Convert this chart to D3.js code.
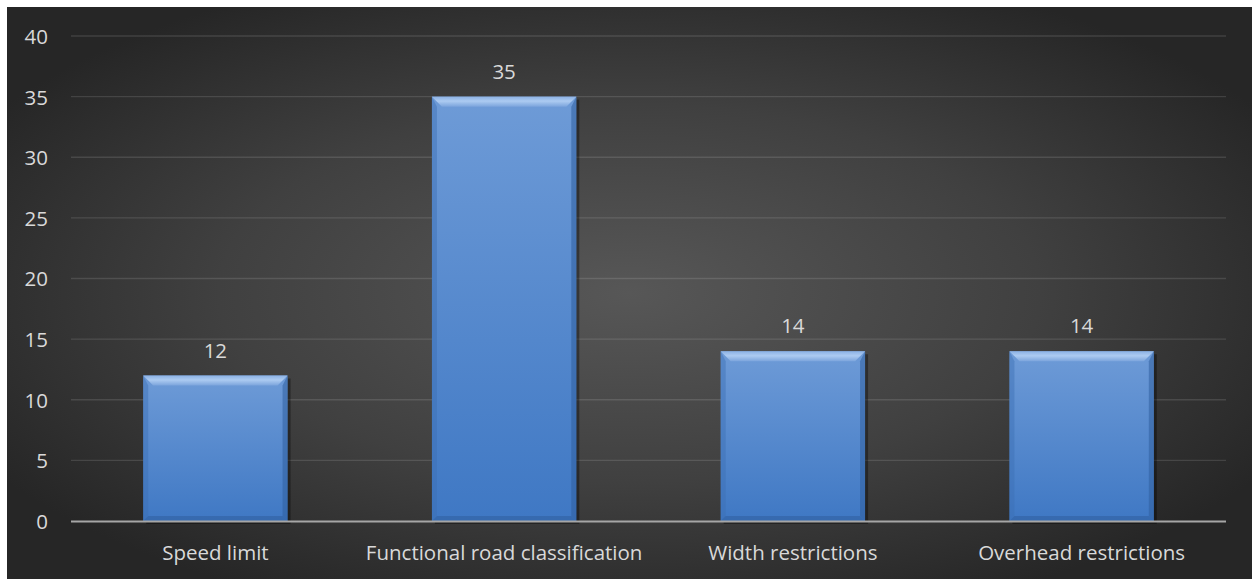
<!DOCTYPE html>
<html><head><meta charset="utf-8">
<script src="https://cdn.jsdelivr.net/npm/d3@7"></script>
<style>html,body{margin:0;padding:0;background:#fff;overflow:hidden}</style>
</head><body>
<svg id="c" width="1252" height="579"></svg>
<script>
const categories = ["Speed limit", "Functional road classification", "Width restrictions", "Overhead restrictions"];
const values = [12, 35, 14, 14];
const yTicks = [0, 5, 10, 15, 20, 25, 30, 35, 40];

const svg = d3.select("#c");
const W = 1252, H = 579;
const area = {x: 7, y: 7, w: W - 7, h: H - 7};
const m = {left: 71, right: 1226, top: 36, bottom: 521};
const font = "'Open Sans', sans-serif";
const fs = 20.5;
const txt = "#d9d9d9";

const defs = svg.append("defs");
const rg = defs.append("radialGradient").attr("id", "bg").attr("cx", "50%").attr("cy", "50%").attr("r", "60%");
rg.append("stop").attr("offset", "0%").attr("stop-color", "#575757");
rg.append("stop").attr("offset", "55%").attr("stop-color", "#404040");
rg.append("stop").attr("offset", "100%").attr("stop-color", "#262626");

const bg = defs.append("linearGradient").attr("id", "bar").attr("x1", 0).attr("y1", 0).attr("x2", 0).attr("y2", 1);
bg.append("stop").attr("offset", "0%").attr("stop-color", "#6e9bd7");
bg.append("stop").attr("offset", "100%").attr("stop-color", "#3f78c4");

const tb = defs.append("linearGradient").attr("id", "topbev").attr("x1", 0).attr("y1", 0).attr("x2", 0).attr("y2", 1);
tb.append("stop").attr("offset", "0%").attr("stop-color", "#8fb4e6");
tb.append("stop").attr("offset", "45%").attr("stop-color", "#b3d0f4");
tb.append("stop").attr("offset", "100%").attr("stop-color", "#7ea6dd");

svg.append("rect").attr("x", area.x).attr("y", area.y).attr("width", area.w).attr("height", area.h).attr("fill", "url(#bg)");

const x = d3.scaleBand().domain(categories).range([m.left, m.right]).paddingInner(0.5).paddingOuter(0.25);
const y = d3.scaleLinear().domain([0, 40]).range([m.bottom, m.top]);

// gridlines
svg.append("g").selectAll("line").data(yTicks.filter(d => d > 0)).join("line")
  .attr("x1", m.left).attr("x2", m.right).attr("y1", d => y(d)).attr("y2", d => y(d))
  .attr("stroke", "rgba(255,255,255,0.12)").attr("stroke-width", 1.3);

// y axis labels
const yAxis = d3.axisLeft(y).tickValues(yTicks).tickSize(0).tickPadding(0);
const ya = svg.append("g").attr("transform", `translate(${m.left - 23},0)`).call(yAxis);
ya.select(".domain").remove();
ya.selectAll("text").attr("fill", txt).attr("font-family", font).attr("font-size", fs).attr("text-anchor", "end").attr("dy", "0.36em");

// bars
const bw = x.bandwidth();
const bev = 10;
const g = svg.append("g").selectAll("g").data(categories.map((c, i) => ({c, v: values[i]}))).join("g");
g.append("rect").attr("x", d => x(d.c) + 3).attr("y", d => y(d.v) + 3).attr("width", bw).attr("height", d => y(0) - y(d.v))
  .attr("fill", "rgba(0,0,0,0.35)");
g.append("rect").attr("x", d => x(d.c)).attr("y", d => y(d.v)).attr("width", bw).attr("height", d => y(0) - y(d.v))
  .attr("fill", "url(#bar)");
// left bevel
g.append("polygon").attr("points", d => {
  const x0 = x(d.c), t = y(d.v), b = y(0);
  return [[x0, t], [x0 + bev * 0.5, t + bev], [x0 + bev * 0.5, b - bev * 0.5], [x0, b]].join(" ");
}).attr("fill", "#3c6fb3").attr("opacity", 0.45);
// right bevel
g.append("polygon").attr("points", d => {
  const x1 = x(d.c) + bw, t = y(d.v), b = y(0);
  return [[x1, t], [x1 - bev * 0.5, t + bev], [x1 - bev * 0.5, b - bev * 0.5], [x1, b]].join(" ");
}).attr("fill", "#2f5e9f").attr("opacity", 0.55);
// bottom bevel
g.append("polygon").attr("points", d => {
  const x0 = x(d.c), x1 = x0 + bw, b = y(0);
  return [[x0, b], [x1, b], [x1 - bev * 0.5, b - bev * 0.5], [x0 + bev * 0.5, b - bev * 0.5]].join(" ");
}).attr("fill", "#2f5e9f").attr("opacity", 0.55);
// top bevel
g.append("polygon").attr("points", d => {
  const x0 = x(d.c), x1 = x0 + bw, t = y(d.v);
  return [[x0, t], [x1, t], [x1 - bev, t + bev], [x0 + bev, t + bev]].join(" ");
}).attr("fill", "url(#topbev)").attr("opacity", 0.9);

// value labels
g.append("text").attr("x", d => x(d.c) + bw / 2).attr("y", d => y(d.v) - 18)
  .attr("text-anchor", "middle").attr("fill", txt).attr("font-family", font).attr("font-size", fs)
  .text(d => d.v);

// x axis line
svg.append("line").attr("x1", m.left).attr("x2", m.right).attr("y1", y(0) + 0.5).attr("y2", y(0) + 0.5)
  .attr("stroke", "#a6a6a6").attr("stroke-width", 2);

// category labels
const xAxis = d3.axisBottom(x).tickSize(0).tickPadding(0);
const xa = svg.append("g").attr("transform", `translate(0,${y(0)})`).call(xAxis);
xa.select(".domain").remove();
xa.selectAll("text").attr("fill", txt).attr("font-family", font).attr("font-size", fs).attr("dy", null).attr("y", 39);
</script>
</body></html>
